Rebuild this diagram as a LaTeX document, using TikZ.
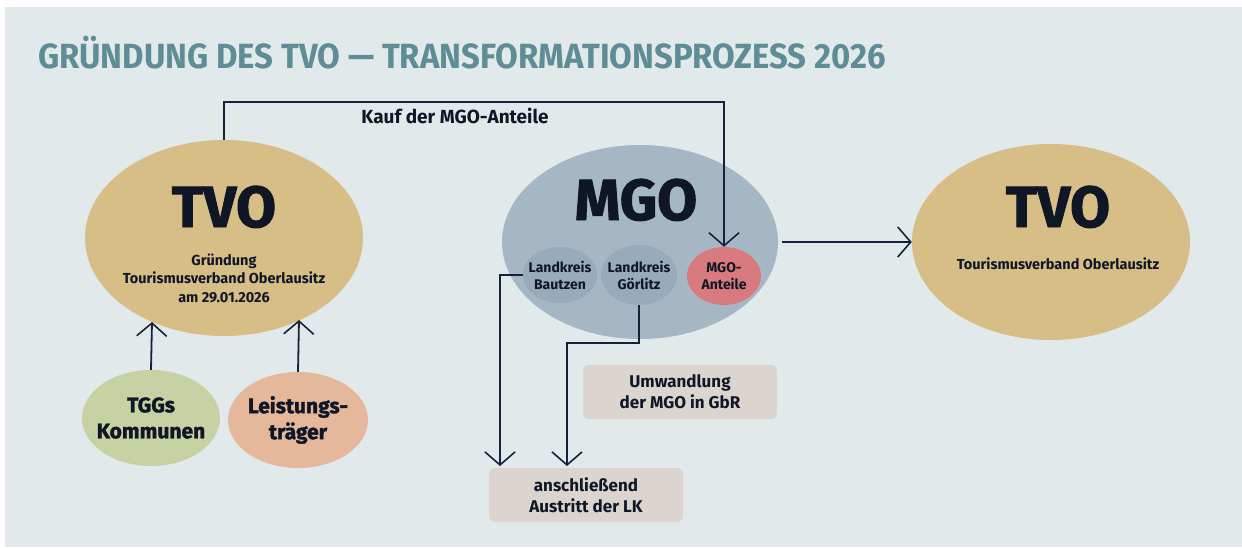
\documentclass[tikz,border=0pt]{standalone}
\usepackage{fontspec}
\setmainfont{Fira Sans}
\newfontfamily\titlefont[FakeStretch=0.94]{Fira Sans}
\newfontfamily\heavyfont[BoldFeatures={FakeBold=1.6}]{Fira Sans}
\usepackage{tikz}
\usetikzlibrary{shapes.geometric, arrows.meta}

\definecolor{panel}{HTML}{E1E9EB}
\definecolor{titleteal}{HTML}{5E8D95}
\definecolor{tvotan}{HTML}{D6BE86}
\definecolor{tggsgreen}{HTML}{C6D2A3}
\definecolor{ltsalmon}{HTML}{E5B79B}
\definecolor{mgoblue}{HTML}{A5B7C4}
\definecolor{lkblue}{HTML}{97ABBA}
\definecolor{anteilred}{HTML}{D97B7E}
\definecolor{boxbeige}{HTML}{DCD4CF}
\definecolor{linenavy}{HTML}{16223A}
\definecolor{inkdark}{HTML}{0F1626}

\begin{document}
\begin{tikzpicture}[x=1pt, y=-1pt,
    oval/.style={ellipse, inner sep=0pt, draw=none},
    stepbox/.style={rectangle, rounded corners=6pt, fill=boxbeige, inner sep=0pt,
        minimum width=194pt, minimum height=54pt, align=center, text=inkdark,
        font=\bfseries\fontsize{17}{21}\selectfont},
    arr/.style={linenavy, line width=1.8pt, -{Straight Barb[length=13pt, width=30pt, line width=1.6pt]}},
    big/.style={text=inkdark, font=\heavyfont\bfseries\fontsize{58}{58}\selectfont},
    small/.style={text=inkdark, align=center, font=\bfseries\fontsize{14.5}{18.5}\selectfont},
    tiny/.style={text=inkdark, align=center, font=\bfseries\fontsize{14}{17}\selectfont},
    mid/.style={text=inkdark, align=center, font=\heavyfont\bfseries\fontsize{21}{26}\selectfont}]

    \useasboundingbox (0,0) rectangle (1242,547);
    \fill[white] (0,0) rectangle (1242,547);
    \fill[panel] (5,7) rectangle (1242,547); % panel

    \node[anchor=base west, inner sep=0pt, text=titleteal, font=\titlefont\bfseries\fontsize{35}{35}\selectfont]
        (title) at (38,68) {GRÜNDUNG DES TVO — TRANSFORMATIONSPROZESS 2026};

    % ellipses
    \node[oval, fill=tvotan, minimum width=278pt, minimum height=196pt] (tvoA) at (224,238) {};
    \node[oval, fill=tggsgreen, minimum width=138pt, minimum height=96pt] (tggs) at (151,418) {};
    \node[oval, fill=ltsalmon, minimum width=140pt, minimum height=96pt] (leist) at (298,420) {};
    \node[oval, fill=mgoblue, minimum width=276pt, minimum height=194pt] (mgo) at (640,242) {};
    \node[oval, fill=lkblue, minimum width=74pt, minimum height=56pt] (bautzen) at (560,275) {};
    \node[oval, fill=lkblue, minimum width=76pt, minimum height=60pt] (goerlitz) at (639,275) {};
    \node[oval, fill=anteilred, minimum width=74pt, minimum height=58pt] (anteile) at (724,276) {};
    \node[oval, fill=tvotan, minimum width=278pt, minimum height=196pt] (tvoB) at (1051,242) {};

    % texts
    \node[big, anchor=base] (tvoAtxt) at (224,227) {TVO};
    \node[small] (tvoAsub) at (224,278) {Gründung\\Tourismusverband Oberlausitz\\am 29.01.2026};
    \node[mid] (tggstxt) at (tggs) {TGGs\\Kommunen};
    \node[mid] (leisttxt) at (leist) {Leistungs-\\träger};
    \node[big, anchor=base] (mgotxt) at (636,220) {MGO};
    \node[tiny] (bautzentxt) at (bautzen) {Landkreis\\Bautzen};
    \node[tiny] (goerlitztxt) at (goerlitz) {Landkreis\\Görlitz};
    \node[tiny] (anteiletxt) at (anteile) {MGO-\\Anteile};
    \node[big, anchor=base] (tvoBtxt) at (1058,227) {TVO};
    \node[small, anchor=base] (tvoBsub) at (1058,269) {Tourismusverband Oberlausitz};
    \node[small, anchor=base, font=\bfseries\fontsize{19}{22}\selectfont] (kauf) at (455,123) {Kauf der MGO-Anteile};

    % boxes
    \node[stepbox] (umwandlung) at (680,392) {Umwandlung\\der MGO in GbR};
    \node[stepbox] (austritt) at (586,495) {anschließend\\Austritt der LK};

    % connectors
    \coordinate (kaufY) at (0,102);
    \coordinate (tvoAin1) at (152,322);
    \coordinate (tvoAin2) at (299,320);
    \coordinate (bzdown) at (500,466);
    \coordinate (glbend) at (567,343);
    \coordinate (gldown) at (567,466);

    \draw[arr] (tvoA.north) -- (tvoA.north |- kaufY) -| (anteile.north); % Kauf
    \draw[arr] (tggs.north) -- (tvoAin1);
    \draw[arr] (leist.north) -- (tvoAin2);
    \draw[arr] (bautzen.west) -| (bzdown);
    \draw[arr] (goerlitz.south) |- (glbend) -- (gldown);
    \draw[arr] ([xshift=4pt]mgo.east) -- (tvoB.west);

\end{tikzpicture}
\end{document}
